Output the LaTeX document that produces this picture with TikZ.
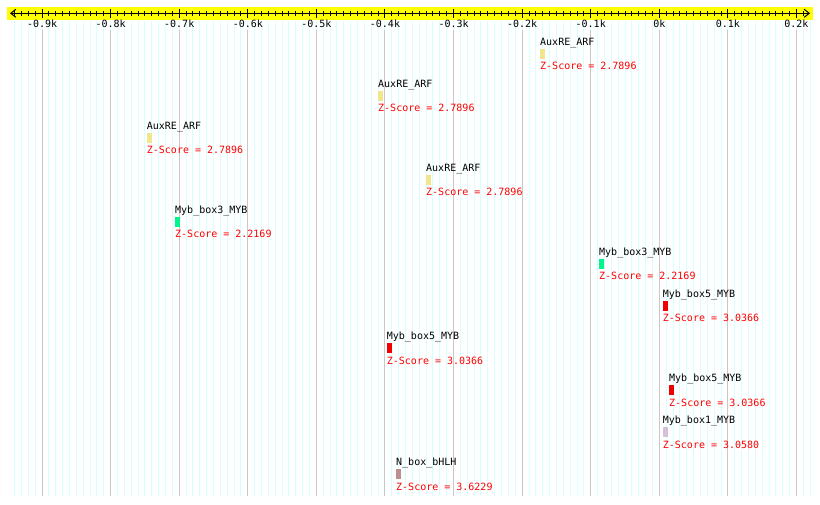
\documentclass[tikz,border=0pt]{standalone}
\usepackage{fontspec}
\newfontfamily\dmono{DejaVu Sans Mono}
\usetikzlibrary{arrows.meta}
\definecolor{axisyellow}{RGB}{255,255,0}
\definecolor{minorgrid}{RGB}{214,255,255}
\definecolor{majorgrid}{RGB}{200,200,200}
\definecolor{arfcol}{RGB}{240,230,140}
\definecolor{mybthree}{RGB}{0,245,140}
\definecolor{mybfive}{RGB}{240,0,0}
\definecolor{mybone}{RGB}{216,191,216}
\definecolor{bhlhcol}{RGB}{188,143,143}
\definecolor{zred}{RGB}{255,0,0}
\tikzset{
  txt/.style={font=\dmono\fontsize{10}{12}\selectfont, inner sep=0pt},
  lbl/.style={txt, anchor=base west},
  zlbl/.style={lbl, text=zred},
  ticklbl/.style={txt, anchor=base},
  bar/.style={minimum width=5.3pt, minimum height=10.6pt, inner sep=0pt, outer sep=0pt, anchor=north west, draw=none},
  minorline/.style={minorgrid, line width=1pt},
  majorline/.style={majorgrid, line width=1pt},
  axisline/.style={black, line width=1pt, {Straight Barb[length=5pt,width=8pt]}-{Straight Barb[length=5pt,width=8pt]}},
  tickline/.style={black, line width=1pt},
}
\begin{document}
\begin{tikzpicture}[x=1pt,y=-1pt]
\useasboundingbox (0,0) rectangle (820,505);
\fill[white] (0,0) rectangle (820,505);
% grid
\foreach \v in {-940,-930,...,220}
  \draw[minorline] ({659.3+0.6858*\v},21) -- ({659.3+0.6858*\v},496);
\foreach \v in {-900,-800,...,200}
  \draw[majorline] ({659.3+0.6858*\v},30) -- ({659.3+0.6858*\v},496);
% axis band
\fill[axisyellow] (7,7) rectangle (813,20.5);
\coordinate (axL) at (10,13.3);
\coordinate (axR) at (810,13.3);
\draw[axisline] (axL) -- (axR);
\foreach \v in {-940,-930,...,210}
  \draw[tickline] ({659.3+0.6858*\v},11) -- ({659.3+0.6858*\v},16.3);
\foreach \v/\t in {-900/-0.9k,-800/-0.8k,-700/-0.7k,-600/-0.6k,-500/-0.5k,-400/-0.4k,-300/-0.3k,-200/-0.2k,-100/-0.1k,0/0k,100/0.1k,200/0.2k}{
  \draw[tickline] ({659.3+0.6858*\v},9.3) -- ({659.3+0.6858*\v},18);
  \node[ticklbl] (t\v) at ({659.3+0.6858*\v},28) {\t};
}
% features
\foreach \x/\nm/\col/\z [count=\i] in {
  540/AuxRE\_ARF/arfcol/2.7896,
  378/AuxRE\_ARF/arfcol/2.7896,
  146.7/AuxRE\_ARF/arfcol/2.7896,
  426/AuxRE\_ARF/arfcol/2.7896,
  175/Myb\_box3\_MYB/mybthree/2.2169,
  599/Myb\_box3\_MYB/mybthree/2.2169,
  662.7/Myb\_box5\_MYB/mybfive/3.0366,
  386.7/Myb\_box5\_MYB/mybfive/3.0366,
  669/Myb\_box5\_MYB/mybfive/3.0366,
  662.7/Myb\_box1\_MYB/mybone/3.0580,
  396/N\_box\_bHLH/bhlhcol/3.6229}{
  \pgfmathsetmacro\top{48.7+42*(\i-1)}
  \node[lbl] (n\i) at (\x,\top-2.8) {\nm};
  \node[bar, fill=\col] (b\i) at (\x,\top) {};
  \node[zlbl] (z\i) at (\x,\top+21.3) {Z-Score = \z};
}
\end{tikzpicture}
\end{document}
